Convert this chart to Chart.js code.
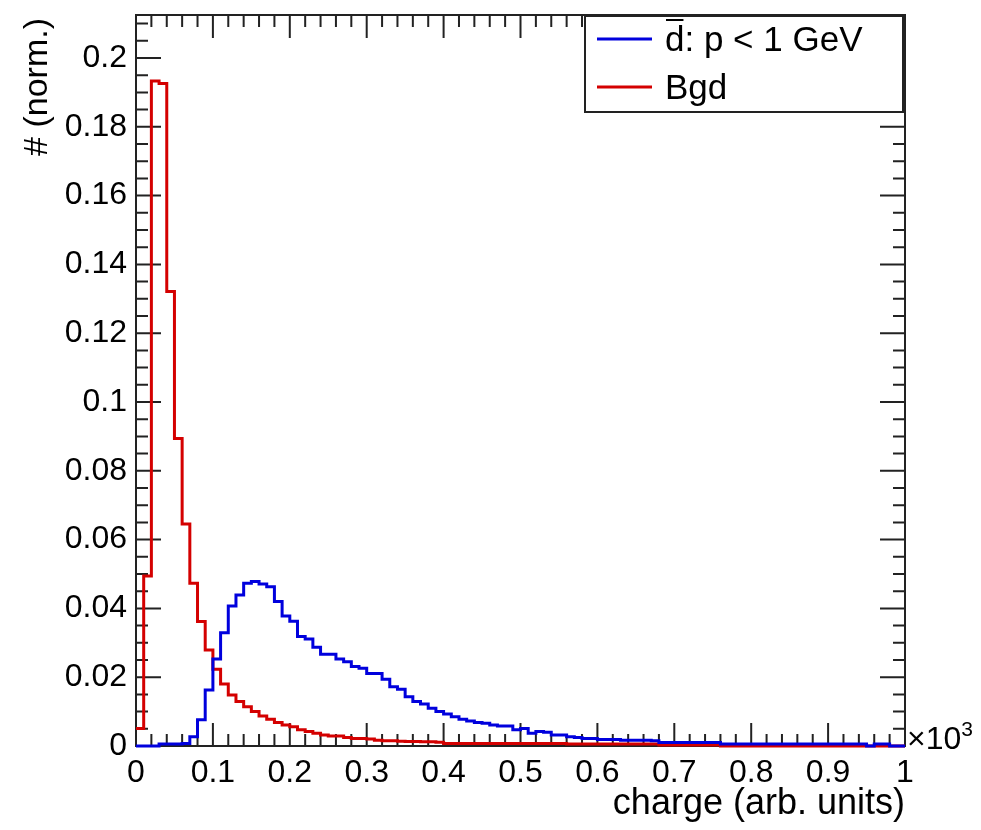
<!DOCTYPE html>
<html lang="en">
<head>
<meta charset="UTF-8">
<title>charge (arb. units)</title>
<script src="https://cdn.jsdelivr.net/npm/chart.js@4.4.1/dist/chart.umd.min.js"></script>
<style>
  html, body { margin: 0; padding: 0; background: #fff; }
  #wrap { width: 981px; height: 830px; }
</style>
</head>
<body>
<div id="wrap"><canvas id="c" width="981" height="830"></canvas></div>
<script>
// histogram: 100 bins over 0..1 (x10^3)
const nBins = 100;
const xMin = 0, xMax = 1;
const yMax = 0.2125;

const xTickLabels = ['0', '0.1', '0.2', '0.3', '0.4', '0.5', '0.6', '0.7', '0.8', '0.9', '1'];
const yTickLabels = ['0', '0.02', '0.04', '0.06', '0.08', '0.1', '0.12', '0.14', '0.16', '0.18', '0.2'];

// d-bar, p < 1 GeV
const dbarValues = [
  0, 0, 0, 0.0006, 0.0006, 0.0006, 0.0007, 0.0027, 0.0076, 0.0163,
  0.0253, 0.0329, 0.0407, 0.0439, 0.0473, 0.0478, 0.0471, 0.0463, 0.0420, 0.0378,
  0.0363, 0.0318, 0.0311, 0.0287, 0.0267, 0.0267, 0.0253, 0.0245, 0.0231, 0.0226,
  0.0211, 0.0211, 0.0194, 0.0172, 0.0165, 0.0143, 0.0129, 0.0122, 0.0110, 0.0100,
  0.0093, 0.0085, 0.0078, 0.0073, 0.0068, 0.0066, 0.0061, 0.0058, 0.0058, 0.0047,
  0.0051, 0.0037, 0.0042, 0.0040, 0.0032, 0.0032, 0.0027, 0.0025, 0.0022, 0.0022,
  0.0019, 0.0019, 0.0019, 0.0017, 0.0017, 0.0017, 0.0017, 0.0015, 0.0010, 0.0010,
  0.0010, 0.0010, 0.0010, 0.0010, 0.0010, 0.0010, 0.0006, 0.0006, 0.0006, 0.0006,
  0.0006, 0.0006, 0.0006, 0.0006, 0.0006, 0.0006, 0.0006, 0.0006, 0.0006, 0.0006,
  0.0006, 0.0006, 0.0006, 0.0006, 0.0006, 0, 0.0006, 0.0006, 0, 0
];

// background
const bgdValues = [
  0.0051, 0.0494, 0.1933, 0.1926, 0.1321, 0.0894, 0.0645, 0.0473, 0.0362, 0.0279,
  0.0223, 0.0180, 0.0148, 0.0129, 0.0114, 0.0100, 0.0087, 0.0078, 0.0068, 0.0061,
  0.0056, 0.0047, 0.0042, 0.0037, 0.0032, 0.0029, 0.0029, 0.0025, 0.0022, 0.0022,
  0.0020, 0.0017, 0.0015, 0.0015, 0.0014, 0.0013, 0.0013, 0.0012, 0.0012, 0.0011,
  0.0007, 0.0007, 0.0007, 0.0007, 0.0007, 0.0007, 0.0007, 0.0007, 0.0007, 0.0007,
  0.0007, 0.0007, 0.0007, 0.0007, 0.0007, 0.0007, 0.0006, 0.0006, 0.0006, 0.0006,
  0.0006, 0.0006, 0.0006, 0.0006, 0.0006, 0.0006, 0.0006, 0.0006, 0.0003, 0.0003,
  0.0003, 0.0003, 0.0003, 0.0003, 0.0003, 0.0003, 0, 0, 0, 0,
  0, 0, 0, 0, 0, 0, 0, 0, 0, 0,
  0, 0, 0, 0, 0, 0, 0, 0, 0, 0
];

const blue = '#0000dd';
const red = '#d40000';
const axisColor = '#222';
const fontFamily = '"Liberation Sans", Arial, Helvetica, sans-serif';

// step outline: one point at each bin's low edge, plus the last upper edge
function toSteps(values) {
  const w = (xMax - xMin) / nBins;
  const pts = values.map((v, i) => ({ x: xMin + i * w, y: v }));
  pts.push({ x: xMax, y: values[values.length - 1] });
  return pts;
}

function fmt(v) {
  return String(+v.toFixed(3));
}

// no extra room for overhanging tick labels, the layout is fixed
function noPad(scale) {
  scale.paddingTop = 0;
  scale.paddingBottom = 0;
  scale.paddingLeft = 0;
  scale.paddingRight = 0;
}

// frame and ticks on all four sides, ROOT style
const framePlugin = {
  id: 'frame',
  beforeDatasetsDraw(chart) {
    const { ctx, chartArea: a, scales: { x, y } } = chart;
    ctx.save();
    ctx.strokeStyle = axisColor;
    ctx.lineWidth = 2;
    ctx.beginPath();
    for (let i = 0; i <= 50; i++) {
      const px = x.getPixelForValue(i * 0.02);
      const len = i % 5 === 0 ? 23 : 12;
      ctx.moveTo(px, a.bottom); ctx.lineTo(px, a.bottom - len);
      ctx.moveTo(px, a.top); ctx.lineTo(px, a.top + len);
    }
    for (let i = 0; i * 0.005 <= yMax; i++) {
      const py = y.getPixelForValue(i * 0.005);
      const len = i % 4 === 0 ? 25 : 12;
      ctx.moveTo(a.left, py); ctx.lineTo(a.left + len, py);
      ctx.moveTo(a.right, py); ctx.lineTo(a.right - len, py);
    }
    ctx.stroke();
    ctx.strokeRect(a.left, a.top, a.right - a.left, a.bottom - a.top);
    ctx.restore();
  }
};

// axis titles, exponent and legend box
const decorPlugin = {
  id: 'decor',
  afterDraw(chart) {
    const { ctx, chartArea: a } = chart;
    ctx.save();
    ctx.fillStyle = '#000';

    // x title
    ctx.font = '36px ' + fontFamily;
    ctx.textAlign = 'right';
    ctx.textBaseline = 'alphabetic';
    ctx.fillText('charge (arb. units)', a.right, 814);

    // y title
    ctx.save();
    ctx.font = '34px ' + fontFamily;
    ctx.translate(47, a.top + 3);
    ctx.rotate(-Math.PI / 2);
    ctx.textAlign = 'right';
    ctx.fillText('# (norm.)', 0, 0);
    ctx.restore();

    // x10^3
    ctx.textAlign = 'left';
    ctx.font = '32px ' + fontFamily;
    ctx.fillText('\u00d710', a.right + 2, 749);
    const w10 = ctx.measureText('\u00d710').width;
    ctx.font = '21px ' + fontFamily;
    ctx.fillText('3', a.right + 2 + w10, 736);

    // legend
    const box = { l: 585, t: 16, r: 903, b: 112 };
    ctx.fillStyle = '#fff';
    ctx.fillRect(box.l, box.t, box.r - box.l, box.b - box.t);
    ctx.strokeStyle = axisColor;
    ctx.lineWidth = 2;
    ctx.strokeRect(box.l, box.t, box.r - box.l, box.b - box.t);

    const rows = [39, 87];
    ctx.font = '35px ' + fontFamily;
    ctx.textBaseline = 'middle';
    chart.data.datasets.forEach((ds, i) => {
      const yy = rows[i];
      ctx.strokeStyle = ds.borderColor;
      ctx.lineWidth = 3;
      ctx.beginPath();
      ctx.moveTo(597, yy); ctx.lineTo(652, yy);
      ctx.stroke();
      ctx.fillStyle = '#000';
      ctx.fillText(ds.label, 665, yy + 2);
      if (ds.overline) {
        // bar over the d
        const wd = ctx.measureText(ds.label[0]).width;
        ctx.strokeStyle = '#000';
        ctx.lineWidth = 2;
        ctx.beginPath();
        ctx.moveTo(666, 20); ctx.lineTo(664 + wd, 20);
        ctx.stroke();
      }
    });
    ctx.restore();
  }
};

Chart.defaults.font.family = fontFamily;
Chart.defaults.color = '#000';

new Chart(document.getElementById('c'), {
  type: 'line',
  data: {
    datasets: [
      {
        label: 'd: p < 1 GeV',
        overline: true,
        data: toSteps(dbarValues),
        borderColor: blue,
        borderWidth: 3,
        stepped: 'before',
        pointRadius: 0,
        fill: false,
        clip: 4
      },
      {
        label: 'Bgd',
        data: toSteps(bgdValues),
        borderColor: red,
        borderWidth: 3,
        stepped: 'before',
        pointRadius: 0,
        fill: false,
        clip: 4
      }
    ]
  },
  options: {
    responsive: false,
    animation: false,
    layout: { padding: { top: 15, right: 76, left: 0, bottom: 0 } },
    plugins: { legend: { display: false }, tooltip: { enabled: false } },
    scales: {
      x: {
        type: 'linear',
        min: xMin,
        max: xMax,
        grid: { display: false, drawTicks: false },
        border: { display: false },
        afterFit(scale) { scale.height = 84; noPad(scale); },
        afterBuildTicks(scale) {
          scale.ticks = xTickLabels.map(t => ({ value: +t }));
        },
        ticks: {
          padding: 8,
          maxRotation: 0,
          autoSkip: false,
          font: { size: 32 },
          callback: v => fmt(v)
        }
      },
      y: {
        type: 'linear',
        min: 0,
        max: yMax,
        grid: { display: false, drawTicks: false },
        border: { display: false },
        afterFit(scale) { scale.width = 136; noPad(scale); },
        afterBuildTicks(scale) {
          scale.ticks = yTickLabels.map(t => ({ value: +t }));
        },
        ticks: {
          padding: 9,
          autoSkip: false,
          font: { size: 32 },
          callback: v => fmt(v)
        }
      }
    }
  },
  plugins: [framePlugin, decorPlugin]
});
</script>
</body>
</html>
